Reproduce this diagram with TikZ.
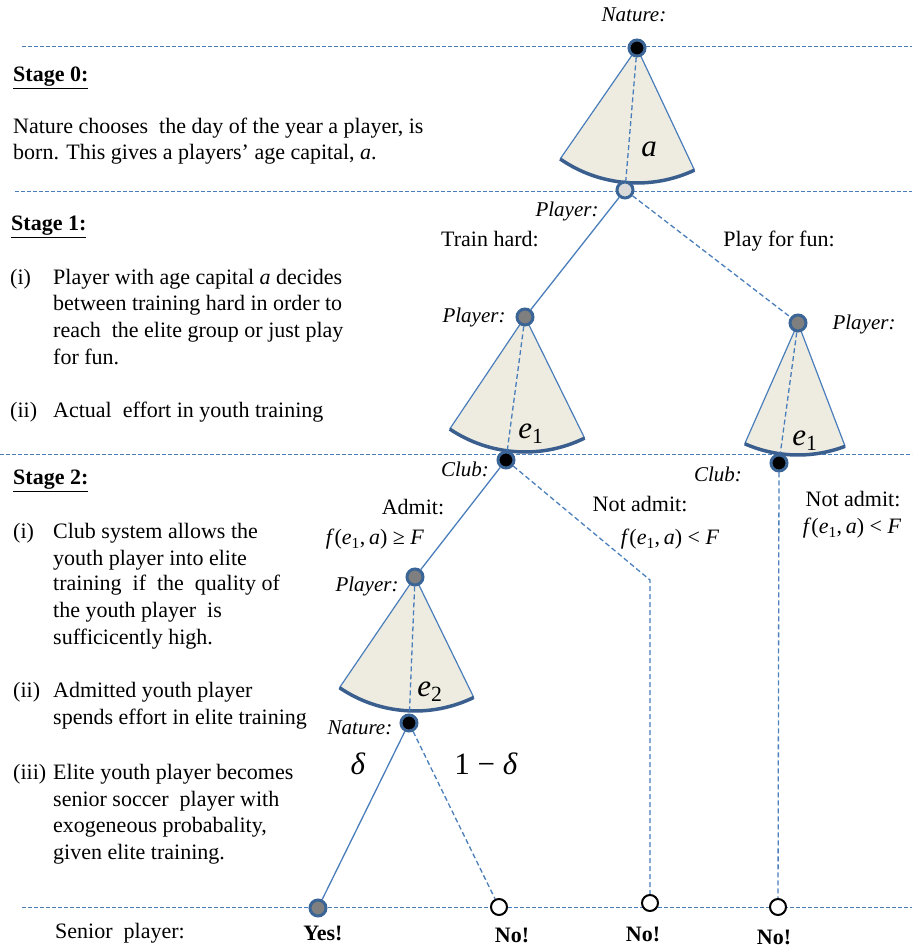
\RequirePackage{fix-cm}
\documentclass[tikz,border=0pt]{standalone}
\usepackage{fontspec}
\setmainfont{Liberation Serif}
\usetikzlibrary{backgrounds}
\definecolor{lineblue}{HTML}{4A7EBB}
\definecolor{nodeblue}{HTML}{3B6596}
\definecolor{arcblue}{HTML}{3A5F8E}
\definecolor{conebeige}{HTML}{EEECE1}
\definecolor{midgray}{HTML}{7F7F7F}
\definecolor{lightgraytwo}{HTML}{D9D9D9}
\newcommand{\mycone}[4]{%
  \fill[conebeige] (#1.center) -- ++(#2:#4) arc[start angle=#2,end angle=#3,radius=#4] -- cycle;
  \draw[coneside] (#1.center) -- ++(#2:#4);
  \draw[coneside] (#1.center) -- ++(#3:#4);
  \draw[conearc] (#1.center) ++(#2:#4) arc[start angle=#2,end angle=#3,radius=#4];
}
\newcommand{\esub}[1]{\textit{e}\textsubscript{#1}}
\newcommand{\fcond}{\textit{f}(\esub{1},\,\textit{a})}
\tikzset{
  txt/.style={font=\fontsize{22}{26}\selectfont, inner sep=0pt, anchor=base west},
  lbl/.style={font=\fontsize{21}{24}\selectfont\itshape, inner sep=0pt, anchor=base},
  cond/.style={font=\fontsize{22}{26}\selectfont, inner sep=0pt, anchor=base},
  bigm/.style={font=\fontsize{31}{34}\selectfont, inner sep=0pt, anchor=base},
  fin/.style={font=\fontsize{22}{26}\selectfont\bfseries, inner sep=0pt, anchor=base},
  gnode/.style={circle, draw=nodeblue, line width=3pt, minimum size=16pt, inner sep=0pt},
  endnode/.style={circle, draw=black, line width=2pt, fill=white, minimum size=16pt, inner sep=0pt},
  hline/.style={draw=lineblue, line width=1pt, dash pattern=on 4pt off 2pt},
  branch/.style={draw=lineblue, line width=1.3pt},
  dbranch/.style={draw=lineblue, line width=1.3pt, dash pattern=on 5pt off 3pt},
  coneside/.style={draw=lineblue, line width=1.2pt},
  conearc/.style={draw=arcblue, line width=3.5pt},
}
\begin{document}
\begin{tikzpicture}[x=1pt,y=1pt]
\useasboundingbox (0,0) rectangle (912,949);

% tree nodes
\node[gnode, fill=black] (nat0) at (637,901) {};
\node[gnode, fill=lightgraytwo] (pl0) at (625,759) {};
\node[gnode, fill=midgray] (plL) at (525,632) {};
\node[gnode, fill=midgray] (plR) at (798,626) {};
\node[gnode, fill=black] (clubL) at (506,489) {};
\node[gnode, fill=black] (clubR) at (779,486) {};
\node[gnode, fill=midgray] (plA) at (415,372) {};
\node[gnode, fill=black] (nat2) at (409,226) {};
\node[gnode, fill=midgray] (yes) at (318,41) {};
\node[endnode] (no1) at (499,42) {};
\node[endnode] (no2) at (650,46) {};
\node[endnode] (no3) at (778,42) {};
\coordinate (bend) at (650,369);

\begin{scope}[on background layer]
  % stage separators
  \draw[hline] (22,902) -- (912,902);
  \draw[hline] (15,757) -- (912,757);
  \draw[hline] (0,494) -- (912,494);
  \draw[hline] (22,41) -- (912,41);
  % cones
  \mycone{nat0}{235.3}{295.2}{135pt}
  \mycone{plL}{236.1}{296.2}{135pt}
  \mycone{plR}{246.2}{290.9}{132pt}
  \mycone{plA}{235.7}{296.0}{134pt}
  % choice lines inside cones
  \draw[dbranch] (nat0) -- (pl0);
  \draw[dbranch] (plL) -- (clubL);
  \draw[dbranch] (plR) -- (clubR);
  \draw[dbranch] (plA) -- (nat2);
  % branches
  \draw[branch] (pl0) -- (plL);
  \draw[dbranch] (pl0) -- (plR);
  \draw[branch] (clubL) -- (plA);
  \draw[dbranch] (clubL) -- (bend) -- (no2);
  \draw[dbranch] (clubR) -- (no3);
  \draw[branch] (nat2) -- (yes);
  \draw[dbranch] (nat2) -- (no1);
\end{scope}

% tree labels
\node[lbl] (natlbl) at (634,927) {Nature:};
\node[bigm] (alab) at (649,792) {\textit{a}};
\node[lbl] (pl0lbl) at (567,732) {Player:};
\node[cond] (train) at (490,702) {Train hard:};
\node[cond] (fun) at (779,702) {Play for fun:};
\node[lbl] (plLlbl) at (474,626) {Player:};
\node[lbl] (plRlbl) at (864,619) {Player:};
\node[bigm] (e1L) at (531,510) {\esub{1}};
\node[bigm] (e1R) at (805,503) {\esub{1}};
\node[lbl] (clubLlbl) at (465,472) {Club:};
\node[lbl] (clubRlbl) at (718,467) {Club:};
\node[cond] (admit) at (413,434) {Admit:};
\node[cond] (fge) at (375,404) {\fcond\ ≥ \textit{F}};
\node[cond] (nadm) at (640,437) {Not admit:};
\node[cond] (flt) at (670,404) {\fcond\ < \textit{F}};
\node[cond] (nadmR) at (853,442) {Not admit:};
\node[cond] (fltR) at (852,415) {\fcond\ < \textit{F}};
\node[lbl] (plAlbl) at (367,357) {Player:};
\node[bigm] (e2) at (430,252) {\esub{2}};
\node[lbl] (nat2lbl) at (360,214) {Nature:};
\node[bigm] (dlt) at (358,174) {\textit{δ}};
\node[bigm] (omd) at (486,174) {1 − \textit{δ}};
\node[txt] (senior) at (55,10) {Senior\ \ player:};
\node[fin] (yeslbl) at (323,9) {Yes!};
\node[fin] (no1lbl) at (512,6) {No!};
\node[fin] (no2lbl) at (643,7) {No!};
\node[fin] (no3lbl) at (774,5) {No!};

% left column: stage 0
\node[txt] (st0) at (13,867) {\underline{\textbf{Stage 0:}}};
\node[txt] (s0a) at (13,815) {Nature chooses\ \ the day of the year a player, is};
\node[txt] (s0b) at (13,789) {born. This gives a players’ age capital, \textit{a}.};
% stage 1
\node[txt] (st1) at (11,718) {\underline{\textbf{Stage 1:}}};
\node[txt] (s1i) at (10,664) {(i)};
\node[txt] (s1ia) at (53,664) {Player with age capital \textit{a} decides};
\node[txt] (s1ib) at (53,638) {between training hard in order to};
\node[txt] (s1ic) at (53,611) {reach\ \ the elite group or just play};
\node[txt] (s1id) at (53,584) {for fun.};
\node[txt] (s1ii) at (10,531) {(ii)};
\node[txt] (s1iia) at (53,531) {Actual\ \ effort in youth training};
% stage 2
\node[txt] (st2) at (13,464) {\underline{\textbf{Stage 2:}}};
\node[txt] (s2i) at (13,410) {(i)};
\node[txt] (s2ia) at (53,410) {Club system allows the};
\node[txt] (s2ib) at (53,383) {youth player into elite};
\node[txt] (s2ic) at (53,358) {training\ \ if\ \ the\ \ quality of};
\node[txt] (s2id) at (53,331) {the youth player\ \ is};
\node[txt] (s2ie) at (53,304) {sufficicently high.};
\node[txt] (s2ii) at (13,251) {(ii)};
\node[txt] (s2iia) at (53,251) {Admitted youth player};
\node[txt] (s2iib) at (53,224) {spends effort in elite training};
\node[txt] (s2iii) at (13,169) {(iii)};
\node[txt] (s2iiia) at (53,169) {Elite youth player becomes};
\node[txt] (s2iiib) at (53,142) {senior soccer\ \ player with};
\node[txt] (s2iiic) at (53,116) {exogeneous probabality,};
\node[txt] (s2iiid) at (53,89) {given elite training.};
\end{tikzpicture}
\end{document}
